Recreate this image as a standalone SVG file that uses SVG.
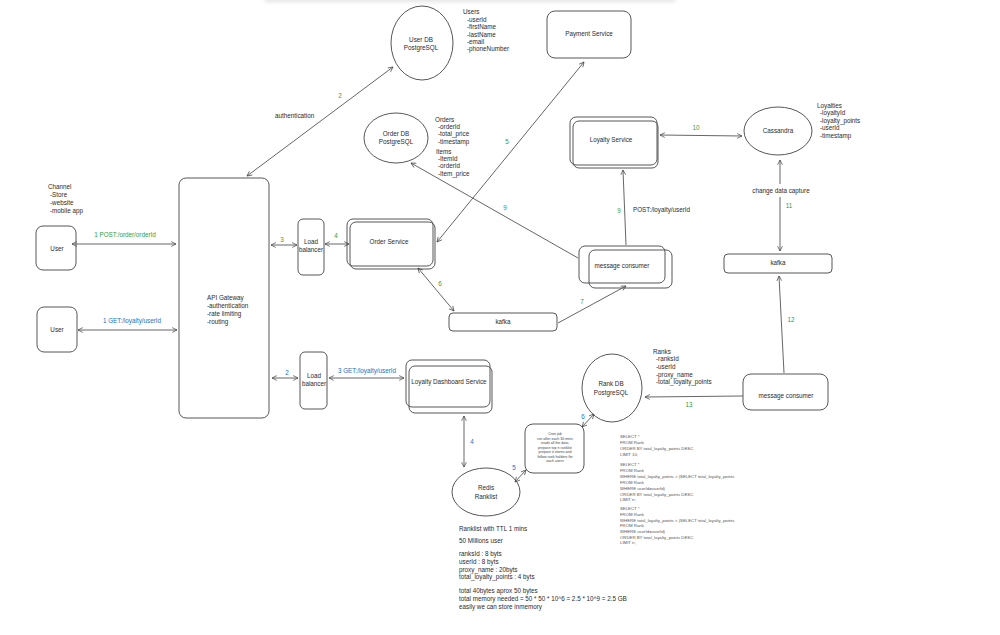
<svg xmlns="http://www.w3.org/2000/svg" width="1000" height="635" viewBox="0 0 1000 635">
<defs>
<marker id="ah" viewBox="0 0 10 10" refX="9" refY="5" markerWidth="6" markerHeight="6" markerUnits="userSpaceOnUse" orient="auto-start-reverse">
<path d="M1,1 L9,5 L1,9" fill="none" stroke="#444" stroke-width="1.2"/>
</marker>
<filter id="blur" x="-10%" y="-200%" width="120%" height="500%"><feGaussianBlur stdDeviation="2"/></filter>
</defs>
<style>
text{font-family:"Liberation Sans",Arial,sans-serif;fill:#2b2b2b;font-size:6.3px}
.c{text-anchor:middle}
.g{fill:#2f9e44}
.b{fill:#1971c2}
.sql{font-size:4.3px;fill:#555}
.note{font-size:3.6px;fill:#444}
.sh{fill:none;stroke:#444;stroke-width:0.9}
.ln{fill:none;stroke:#555;stroke-width:0.9}
.a2{marker-start:url(#ah);marker-end:url(#ah)}
.a1{marker-end:url(#ah)}
</style>
<rect width="1000" height="635" fill="#ffffff"/>
<rect x="265" y="-6" width="410" height="8" fill="#e4e4e4" filter="url(#blur)"/>

<g id="channel">
<text x="48" y="189">Channel</text>
<text x="50" y="197">-Store</text>
<text x="50" y="205">-website</text>
<text x="50" y="213">-mobile app</text>
</g>
<g id="user1"><rect class="sh" x="36" y="226" width="40" height="44" rx="7"/><text class="c" x="57" y="251">User</text></g>
<g id="user2"><rect class="sh" x="37" y="307" width="40" height="45" rx="7"/><text class="c" x="57" y="332">User</text></g>
<g id="api-gateway"><rect class="sh" x="179" y="178" width="90" height="240" rx="7"/>
<text x="207" y="300">API Gateway</text><text x="207" y="308">-authentication</text><text x="207" y="316">-rate limiting</text><text x="207" y="324">-routing</text></g>
<g id="lb1"><rect class="sh" x="298" y="219" width="26" height="56" rx="5"/><text class="c" x="311" y="244">Load</text><text class="c" x="311" y="252">balancer</text></g>
<g id="lb2"><rect class="sh" x="300" y="352" width="27" height="57" rx="5"/><text class="c" x="314" y="378">Load</text><text class="c" x="314" y="386">balancer</text></g>
<g id="order-service"><rect class="sh" x="347" y="219" width="86" height="47" rx="6"/><rect class="sh" x="350" y="222" width="85" height="47" rx="6"/><text class="c" x="389" y="244">Order Service</text></g>
<g id="dashboard"><rect class="sh" x="406" y="360" width="84" height="47" rx="6"/><rect class="sh" x="409" y="366" width="83" height="47" rx="6"/><text class="c" x="449" y="384">Loyalty Dashboard Service</text></g>
<g id="user-db"><ellipse class="sh" cx="422" cy="43" rx="31" ry="37"/><text class="c" x="421" y="42">User DB</text><text class="c" x="421" y="50">PostgreSQL</text></g>
<g id="users-schema"><text x="463" y="14">Users</text><text x="467" y="22">-userId</text><text x="467" y="29">-firstName</text><text x="467" y="37">-lastName</text><text x="467" y="44">-email</text><text x="467" y="51">-phoneNumber</text></g>
<g id="order-db"><ellipse class="sh" cx="396" cy="138" rx="32" ry="25"/><text class="c" x="396" y="136">Order DB</text><text class="c" x="396" y="144">PostgreSQL</text></g>
<g id="orders-schema"><text x="435" y="122">Orders</text><text x="438" y="129">-orderId</text><text x="438" y="136">-total_price</text><text x="438" y="144">-timestamp</text>
<text x="436" y="154">Items</text><text x="438" y="161">-ItemId</text><text x="438" y="168">-orderId</text><text x="438" y="176">-Item_price</text></g>
<g id="payment-service"><rect class="sh" x="547" y="11" width="84" height="47" rx="8"/><text class="c" x="589" y="36">Payment Service</text></g>
<g id="loyalty-service"><rect class="sh" x="570" y="117" width="87" height="48" rx="6"/><rect class="sh" x="573" y="121" width="85" height="47" rx="6"/><text class="c" x="611" y="142">Loyalty Service</text></g>
<g id="cassandra"><ellipse class="sh" cx="778" cy="131" rx="34" ry="24"/><text class="c" x="778" y="133">Cassandra</text></g>
<g id="loyalties-schema"><text x="817" y="108">Loyalties</text><text x="820" y="115">-loyaltyId</text><text x="820" y="123">-loyalty_points</text><text x="820" y="130">-userId</text><text x="820" y="138">-timestamp</text></g>
<g id="kafka-right"><rect class="sh" x="724" y="254" width="108" height="19" rx="4"/><text class="c" x="778" y="265">kafka</text></g>
<g id="message-consumer-1"><rect class="sh" x="579" y="246" width="86" height="37" rx="6"/><rect class="sh" x="589" y="250" width="83" height="38" rx="6"/><text class="c" x="622" y="268">message consumer</text></g>
<g id="kafka-mid"><rect class="sh" x="449" y="313" width="108" height="18" rx="4"/><text class="c" x="503" y="324">kafka</text></g>
<g id="message-consumer-2"><rect class="sh" x="743" y="374" width="85" height="36" rx="8"/><text class="c" x="786" y="398">message consumer</text></g>
<g id="rank-db"><ellipse class="sh" cx="612" cy="388" rx="30" ry="34"/><text class="c" x="611" y="386">Rank DB</text><text class="c" x="611" y="395">PostgreSQL</text></g>
<g id="ranks-schema"><text x="653" y="354">Ranks</text><text x="656" y="361">-ranksId</text><text x="656" y="369">-userId</text><text x="656" y="377">-proxy_name</text><text x="656" y="384">-total_loyalty_points</text></g>
<g id="cron-note"><rect class="sh" x="525" y="424" width="59" height="49" rx="8"/>
<text class="note c" x="555" y="435">Cron job</text>
<text class="note c" x="555" y="439.5">run after each 30 mins</text>
<text class="note c" x="555" y="444">reads all the data,</text>
<text class="note c" x="555" y="448.5">prepare top n ranklist</text>
<text class="note c" x="555" y="453">prepare it stores and</text>
<text class="note c" x="555" y="457.5">follow rank holders for</text>
<text class="note c" x="555" y="462">each users</text></g>
<g id="redis"><ellipse class="sh" cx="486" cy="492" rx="34" ry="24"/><text class="c" x="486" y="490">Redis</text><text class="c" x="486" y="499">Ranklist</text></g>
<g id="sql-queries">
<text class="sql" x="620" y="438">SELECT *</text>
<text class="sql" x="620" y="444">FROM Rank</text>
<text class="sql" x="620" y="450">ORDER BY total_loyalty_points DESC</text>
<text class="sql" x="620" y="456">LIMIT 10;</text>
<text class="sql" x="620" y="466">SELECT *</text>
<text class="sql" x="620" y="472">FROM Rank</text>
<text class="sql" x="620" y="478">WHERE total_loyalty_points &gt; (SELECT total_loyalty_points</text>
<text class="sql" x="620" y="484">FROM Rank</text>
<text class="sql" x="620" y="490">WHERE userId=userId)</text>
<text class="sql" x="620" y="495.5">ORDER BY total_loyalty_points DESC</text>
<text class="sql" x="620" y="501">LIMIT n;</text>
<text class="sql" x="620" y="510">SELECT *</text>
<text class="sql" x="620" y="516">FROM Rank</text>
<text class="sql" x="620" y="521.5">WHERE total_loyalty_points &lt; (SELECT total_loyalty_points</text>
<text class="sql" x="620" y="527">FROM Rank</text>
<text class="sql" x="620" y="533">WHERE userId=userId)</text>
<text class="sql" x="620" y="538.5">ORDER BY total_loyalty_points DESC</text>
<text class="sql" x="620" y="544">LIMIT n;</text>
</g>
<g id="estimates">
<text x="459" y="531">Ranklist with TTL 1 mins</text>
<text x="459" y="543">50 Millions user</text>
<text x="459" y="556">ranksId : 8 byts</text>
<text x="459" y="564">userId : 8 byts</text>
<text x="459" y="572">proxy_name : 20byts</text>
<text x="459" y="579">total_loyalty_points : 4 byts</text>
<text x="459" y="593">total 40bytes aprox 50 bytes</text>
<text x="459" y="601">total memory needed = 50 * 50 * 10^6 = 2.5 * 10^9 = 2.5 GB</text>
<text x="459" y="609">easily we can store inmemory</text>
</g>

<g id="connectors">
<path class="ln a2" d="M72,244 L176,244"/>
<path class="ln a2" d="M78,330 L177,330"/>
<path class="ln a2" d="M247,176 L393,67"/>
<path class="ln a2" d="M271,245 L297,245"/>
<path class="ln a2" d="M325,244 L349,244"/>
<path class="ln a2" d="M437,242 L584,62"/>
<path class="ln a2" d="M418,268 L454,311"/>
<path class="ln a1" d="M558,323 L626,286"/>
<path class="ln a1" d="M578,258 L411,163"/>
<path class="ln a1" d="M626,245 L623,170"/>
<path class="ln a2" d="M660,135 L742,136"/>
<path class="ln" d="M780,160 L780,184" marker-start="url(#ah)"/>
<path class="ln a1" d="M780,197 L780,251"/>
<path class="ln a1" d="M784,373 L779,276"/>
<path class="ln a1" d="M743,396 L645,397"/>
<path class="ln a2" d="M272,378 L298,378"/>
<path class="ln a2" d="M329,378 L404,378"/>
<path class="ln a2" d="M464,416 L464,467"/>
<path class="ln a2" d="M526,470 L515,482"/>
<path class="ln a2" d="M594,414 L582,427"/>
</g>
<g id="connector-labels">
<text class="g c" x="125" y="237">1 POST:/order/orderId</text>
<text class="b c" x="132" y="323">1 GET:/loyalty/userId</text>
<text x="275" y="118">authentication</text>
<text class="g c" x="340" y="98">2</text>
<text class="g c" x="282" y="242">3</text>
<text class="g c" x="336" y="238">4</text>
<text class="g c" x="507" y="144">5</text>
<text class="g c" x="440" y="286">6</text>
<text class="g c" x="582" y="304">7</text>
<text class="g c" x="505" y="210">9</text>
<text class="g c" x="619" y="213">9</text>
<text x="633" y="212">POST:/loyalty/userId</text>
<text class="g c" x="696" y="130">10</text>
<text class="c" x="781" y="193">change data capture</text>
<text class="g c" x="789" y="208">11</text>
<text class="g c" x="791" y="322">12</text>
<text class="g c" x="689" y="407">13</text>
<text class="b c" x="287" y="375">2</text>
<text class="b c" x="367" y="373">3 GET:/loyalty/userId</text>
<text class="b c" x="472" y="444">4</text>
<text class="b c" x="514" y="470">5</text>
<text class="b c" x="583" y="419">6</text>
</g>
</svg>
